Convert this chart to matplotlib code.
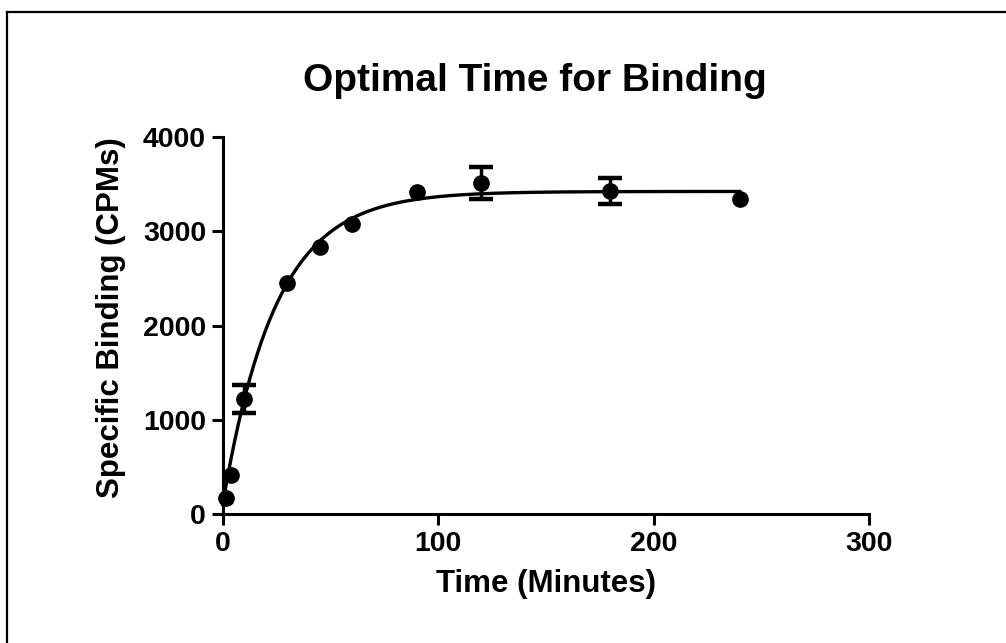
import numpy as np
import matplotlib.pyplot as plt
from matplotlib.lines import Line2D

plt.rcParams["font.family"] = ["Liberation Sans", "DejaVu Sans"]
plt.rcParams["font.weight"] = "bold"

# time course of specific binding (mean and SEM)
time_min = [1.5, 4, 10, 30, 45, 60, 90, 120, 180, 240]
binding_cpm = [175, 410, 1220, 2450, 2830, 3080, 3420, 3510, 3430, 3345]
binding_sem = [0, 0, 145, 0, 0, 0, 0, 170, 135, 0]

# one-phase association fit: Y = Y0 + (plateau - Y0) * (1 - exp(-k t))
fit_y0 = 100.0
fit_plateau = 3425.0
fit_k = 0.0409

x_ticks = [0, 100, 200, 300]
y_ticks = [0, 1000, 2000, 3000, 4000]

W, H = 1006, 643
fig = plt.figure(figsize=(W / 100, H / 100), dpi=100)
ax = fig.add_axes([222.7 / W, 129 / H, 646.3 / W, 376.7 / H])

t_fit = np.linspace(0, 240, 400)
y_fit = fit_y0 + (fit_plateau - fit_y0) * (1 - np.exp(-fit_k * t_fit))
ax.plot(t_fit, y_fit, color="black", lw=2.4, clip_on=False, zorder=2)

ax.plot(time_min, binding_cpm, "o", color="black", ms=11, clip_on=False, zorder=3)

t = np.array(time_min)
y = np.array(binding_cpm)
e = np.array(binding_sem)
has_err = e > 0
ax.errorbar(t[has_err], y[has_err], yerr=e[has_err], fmt="none", ecolor="black",
            elinewidth=2.5, capsize=8.5, capthick=3.2, clip_on=False, zorder=3)

ax.set_xlim(0, 300)
ax.set_ylim(0, 4000)
ax.set_xticks(x_ticks)
ax.set_yticks(y_ticks)
for side in ("top", "right"):
    ax.spines[side].set_visible(False)
for side in ("left", "bottom"):
    ax.spines[side].set_linewidth(2.2)
ax.tick_params(axis="both", length=8, width=2.2, labelsize=20.5)
ax.tick_params(axis="x", pad=4)
ax.tick_params(axis="y", pad=4)
for lbl in ax.get_xticklabels() + ax.get_yticklabels():
    lbl.set_fontweight("bold")

ax.set_xlabel("Time (Minutes)", fontsize=22.5, fontweight="bold", labelpad=9)
ax.set_ylabel("Specific Binding (CPMs)", fontsize=22.5, fontweight="bold", labelpad=12.5)
ax.yaxis.label.set_y(0.52)
fig.text(535 / W, 1 - 91 / H, "Optimal Time for Binding", fontsize=28,
         fontweight="bold", ha="center", va="baseline")

# page frame along the top and left edges
fig.add_artist(Line2D([7 / W, 7 / W], [0, 1 - 12 / H], transform=fig.transFigure,
                      color="black", lw=1.6))
fig.add_artist(Line2D([7 / W, 1], [1 - 12 / H, 1 - 12 / H], transform=fig.transFigure,
                      color="black", lw=1.6))

fig.savefig("out.png", dpi=100)
